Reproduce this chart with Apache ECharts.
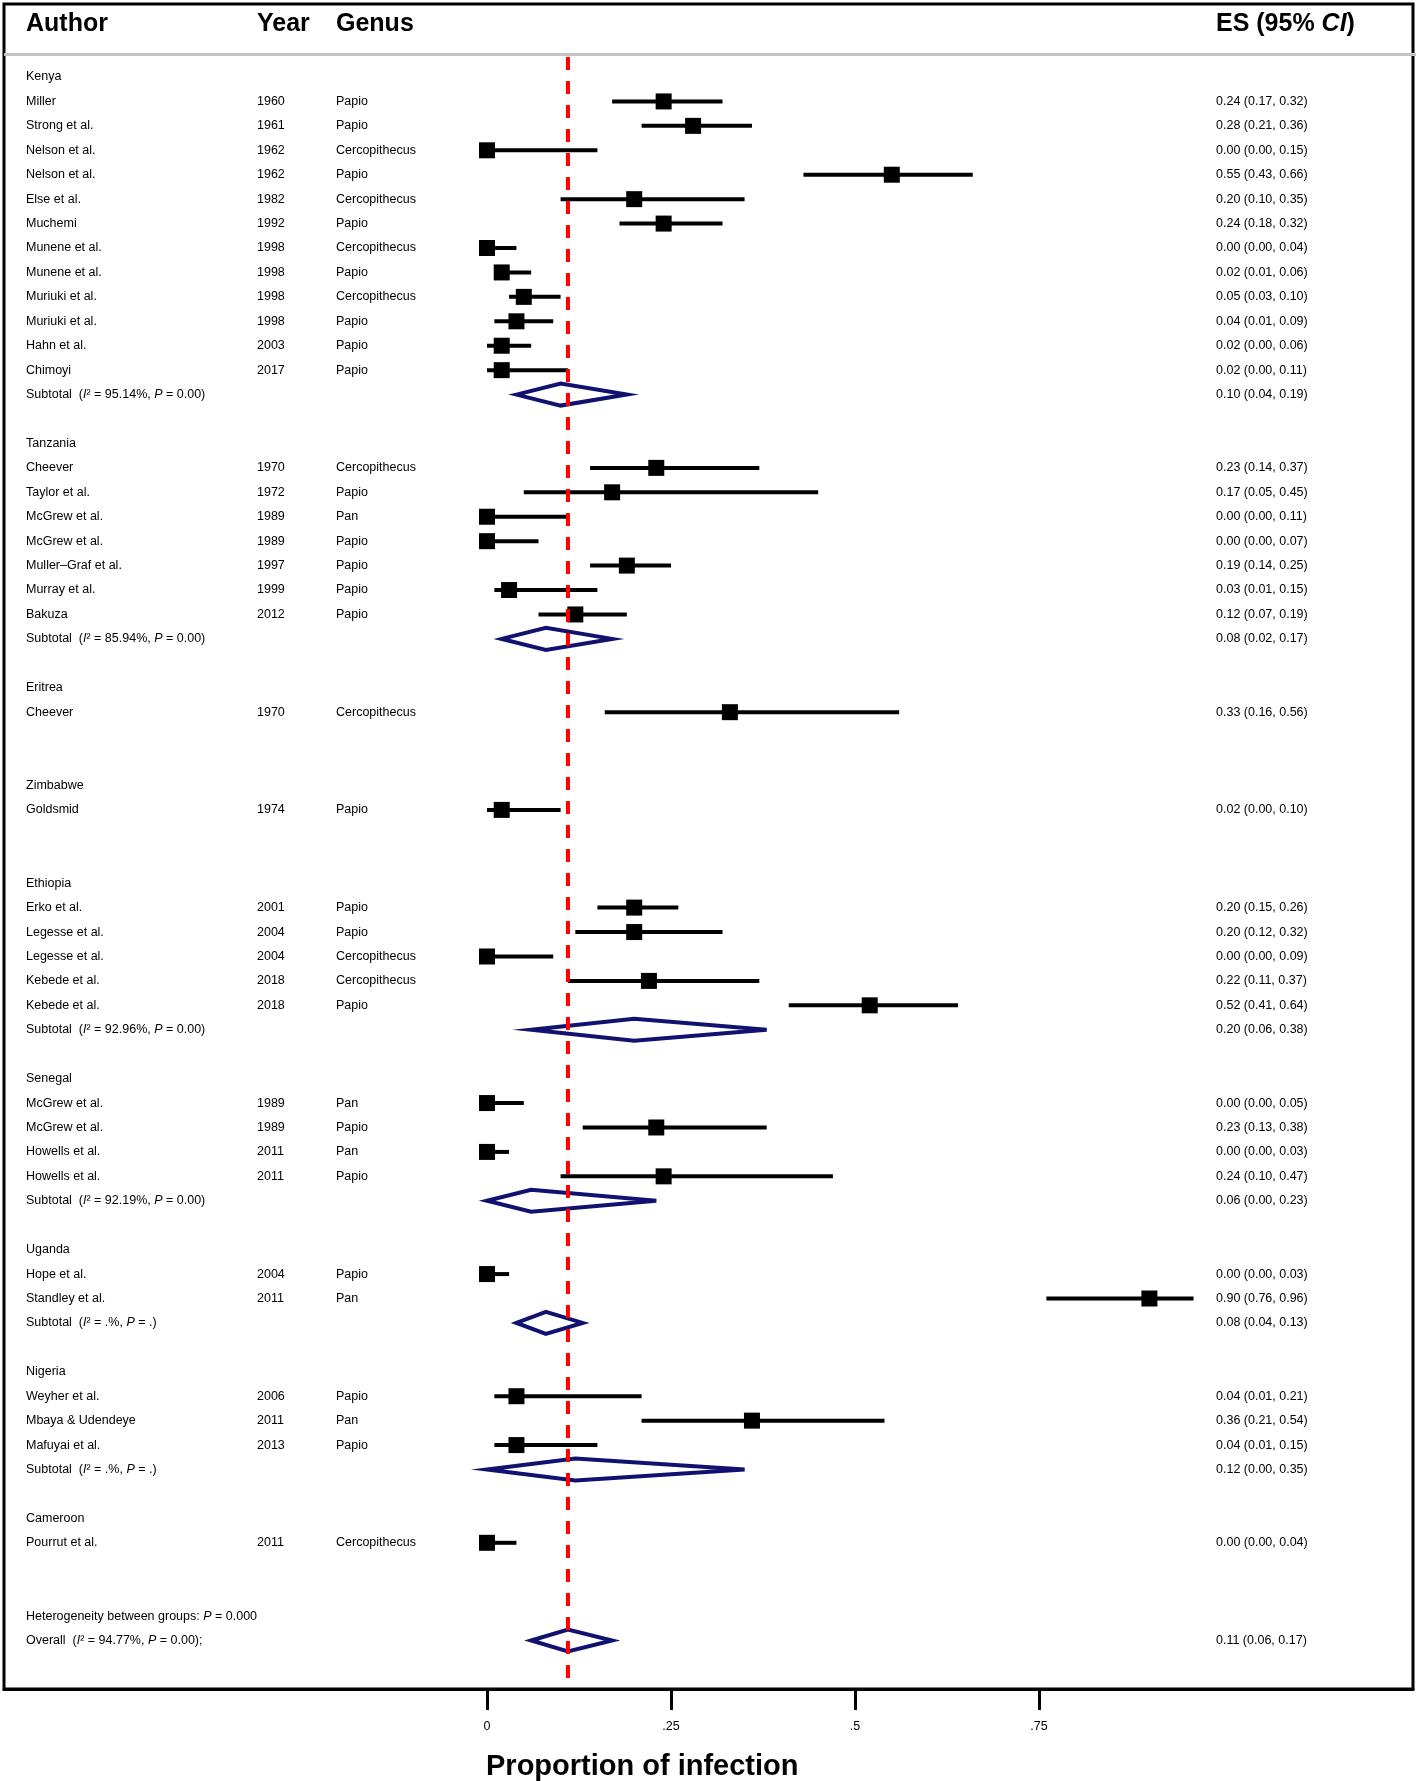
<!DOCTYPE html>
<html><head><meta charset="utf-8">
<script src="https://cdn.jsdelivr.net/npm/echarts@6/dist/echarts.min.js"></script>
<style>html,body{margin:0;padding:0;background:#fff}#c{width:1418px;height:1781px}</style>
</head><body><div id="c"></div>
<script>
// ---------------- DATA ----------------
// row types: g = group heading, s = study, t = subtotal, b = blank, h = heterogeneity note, o = overall
const rowType = ['g','s','s','s','s','s','s','s','s','s','s','s','s','t','b',
  'g','s','s','s','s','s','s','s','t','b',
  'g','s','b','b',
  'g','s','b','b',
  'g','s','s','s','s','s','t','b',
  'g','s','s','s','s','t','b',
  'g','s','s','t','b',
  'g','s','s','s','t','b',
  'g','s','b','b',
  'h','o'];
const rowLabel = ['Kenya','Miller','Strong et al.','Nelson et al.','Nelson et al.','Else et al.','Muchemi','Munene et al.','Munene et al.','Muriuki et al.','Muriuki et al.','Hahn et al.','Chimoyi','Subtotal','',
  'Tanzania','Cheever','Taylor et al.','McGrew et al.','McGrew et al.','Muller\u2013Graf et al.','Murray et al.','Bakuza','Subtotal','',
  'Eritrea','Cheever','','',
  'Zimbabwe','Goldsmid','','',
  'Ethiopia','Erko et al.','Legesse et al.','Legesse et al.','Kebede et al.','Kebede et al.','Subtotal','',
  'Senegal','McGrew et al.','McGrew et al.','Howells et al.','Howells et al.','Subtotal','',
  'Uganda','Hope et al.','Standley et al.','Subtotal','',
  'Nigeria','Weyher et al.','Mbaya & Udendeye','Mafuyai et al.','Subtotal','',
  'Cameroon','Pourrut et al.','','',
  'Heterogeneity between groups:','Overall'];
const rowYear = ['','1960','1961','1962','1962','1982','1992','1998','1998','1998','1998','2003','2017','','',
  '','1970','1972','1989','1989','1997','1999','2012','','',
  '','1970','','',
  '','1974','','',
  '','2001','2004','2004','2018','2018','','',
  '','1989','1989','2011','2011','','',
  '','2004','2011','','',
  '','2006','2011','2013','','',
  '','2011','','',
  '',''];
const rowGenus = ['','Papio','Papio','Cercopithecus','Papio','Cercopithecus','Papio','Cercopithecus','Papio','Cercopithecus','Papio','Papio','Papio','','',
  '','Cercopithecus','Papio','Pan','Papio','Papio','Papio','Papio','','',
  '','Cercopithecus','','',
  '','Papio','','',
  '','Papio','Papio','Cercopithecus','Cercopithecus','Papio','','',
  '','Pan','Papio','Pan','Papio','','',
  '','Papio','Pan','','',
  '','Papio','Pan','Papio','','',
  '','Cercopithecus','','',
  '',''];
const rowES = [null,0.24,0.28,0.00,0.55,0.20,0.24,0.00,0.02,0.05,0.04,0.02,0.02,0.10,null,
  null,0.23,0.17,0.00,0.00,0.19,0.03,0.12,0.08,null,
  null,0.33,null,null,
  null,0.02,null,null,
  null,0.20,0.20,0.00,0.22,0.52,0.20,null,
  null,0.00,0.23,0.00,0.24,0.06,null,
  null,0.00,0.90,0.08,null,
  null,0.04,0.36,0.04,0.12,null,
  null,0.00,null,null,
  null,0.11];
const rowLo = [null,0.17,0.21,0.00,0.43,0.10,0.18,0.00,0.01,0.03,0.01,0.00,0.00,0.04,null,
  null,0.14,0.05,0.00,0.00,0.14,0.01,0.07,0.02,null,
  null,0.16,null,null,
  null,0.00,null,null,
  null,0.15,0.12,0.00,0.11,0.41,0.06,null,
  null,0.00,0.13,0.00,0.10,0.00,null,
  null,0.00,0.76,0.04,null,
  null,0.01,0.21,0.01,0.00,null,
  null,0.00,null,null,
  null,0.06];
const rowHi = [null,0.32,0.36,0.15,0.66,0.35,0.32,0.04,0.06,0.10,0.09,0.06,0.11,0.19,null,
  null,0.37,0.45,0.11,0.07,0.25,0.15,0.19,0.17,null,
  null,0.56,null,null,
  null,0.10,null,null,
  null,0.26,0.32,0.09,0.37,0.64,0.38,null,
  null,0.05,0.38,0.03,0.47,0.23,null,
  null,0.03,0.96,0.13,null,
  null,0.21,0.54,0.15,0.35,null,
  null,0.04,null,null,
  null,0.17];
// heterogeneity statistics for subtotal / overall rows (I-squared, P)
const rowI2 = {13:'95.14%',23:'85.94%',39:'92.96%',46:'92.19%',51:'.%',57:'.%',64:'94.77%'};
const rowP  = {13:'0.00',23:'0.00',39:'0.00',46:'0.00',51:'.',57:'.',63:'0.000',64:'0.00'};
const xTicks = [0, 0.25, 0.5, 0.75];
const xTickLabels = ['0', '.25', '.5', '.75'];
const headerLabels = ['Author', 'Year', 'Genus'];
const axisTitle = 'Proportion of infection';

// ---------------- LAYOUT ----------------
const W = 1418, H = 1781;
const GL = 4, GT = 4, GR = 1413, GB = 1689;
const X0PX = 487, PX_PER_UNIT = 736;
const ROW0PX = 77, ROWPX = 24.43;
const X_MIN = (GL - X0PX) / PX_PER_UNIT, X_MAX = (GR - X0PX) / PX_PER_UNIT;
const Y_MIN = (GT - ROW0PX) / ROWPX, Y_MAX = (GB - ROW0PX) / ROWPX;
const COL_AUTHOR = 26, COL_YEAR = 257, COL_GENUS = 336, COL_ES = 1216;
const BODY_FONT = '"Liberation Sans", Arial, sans-serif';
const HEAD_FONT = '"Liberation Sans", Arial, sans-serif';
const BODY_SIZE = 12.5;
const HEAD_SIZE = 25;
const NAVY = '#111270';

const fmt = v => v.toFixed(2);
const rowsIdx = rowType.map((t, i) => i);
const studyRows = rowsIdx.filter(i => rowType[i] === 's');
const diamondRows = rowsIdx.filter(i => rowType[i] === 't' || rowType[i] === 'o');
const overallRow = rowType.indexOf('o');

function rowText(i) {
  const t = rowType[i];
  if (t === 't') return 'Subtotal  ({i|I}\u00b2 = ' + rowI2[i] + ', {i|P} = ' + rowP[i] + ')';
  if (t === 'o') return 'Overall  ({i|I}\u00b2 = ' + rowI2[i] + ', {i|P} = ' + rowP[i] + ');';
  if (t === 'h') return rowLabel[i] + ' {i|P} = ' + rowP[i];
  return rowLabel[i];
}
const richItalic = { i: { fontStyle: 'italic', fontFamily: BODY_FONT, fontSize: BODY_SIZE, fill: '#000' } };
const headFont = 'bold ' + HEAD_SIZE + 'px ' + HEAD_FONT;

const chart = echarts.init(document.getElementById('c'), null, { renderer: 'canvas' });
chart.setOption({
  animation: false,
  backgroundColor: '#fff',
  grid: { left: GL, top: GT, width: GR - GL, height: GB - GT, show: true, borderColor: '#000', borderWidth: 3, backgroundColor: 'transparent' },
  title: {
    text: axisTitle, left: X0PX - 6, top: 1747,
    textStyle: { fontFamily: HEAD_FONT, fontWeight: 'bold', fontSize: 29, color: '#000' }
  },
  xAxis: {
    type: 'value', min: X_MIN, max: X_MAX, position: 'bottom',
    axisLine: { show: true, onZero: false, lineStyle: { color: '#000', width: 3 } },
    axisTick: { show: true, customValues: xTicks, length: 21, lineStyle: { color: '#000', width: 3 } },
    axisLabel: { customValues: xTicks, margin: 31, color: '#000', fontSize: 12.5, fontFamily: BODY_FONT,
      formatter: v => xTickLabels[xTicks.indexOf(v)] ?? '' },
    splitLine: { show: false }
  },
  yAxis: { type: 'value', inverse: true, min: Y_MIN, max: Y_MAX, show: false },
  graphic: [
    { type: 'line', shape: { x1: GL, y1: 54.5, x2: W - 2, y2: 54.5 }, style: { stroke: '#c4c4c4', lineWidth: 3 }, z: 1 },
    { type: 'text', x: COL_AUTHOR, y: 24, style: { text: headerLabels[0], font: headFont, fill: '#000', verticalAlign: 'middle' } },
    { type: 'text', x: COL_YEAR, y: 24, style: { text: headerLabels[1], font: headFont, fill: '#000', verticalAlign: 'middle' } },
    { type: 'text', x: COL_GENUS, y: 24, style: { text: headerLabels[2], font: headFont, fill: '#000', verticalAlign: 'middle' } },
    { type: 'text', x: COL_ES, y: 24, style: { text: 'ES (95% {it|CI})', font: headFont, fill: '#000', verticalAlign: 'middle',
      rich: { it: { fontStyle: 'italic', fontWeight: 'bold', fontSize: HEAD_SIZE, fontFamily: HEAD_FONT, fill: '#000' } } } }
  ],
  series: [
    { // table text
      type: 'custom', z: 5, silent: true,
      data: rowsIdx.map(i => [0, i]),
      renderItem: (params, api) => {
        const i = params.dataIndex;
        const y = api.coord([0, i])[1];
        const kids = [];
        const base = { fill: '#000', fontFamily: BODY_FONT, fontSize: BODY_SIZE, verticalAlign: 'middle', align: 'left' };
        if (rowLabel[i]) kids.push({ type: 'text', style: Object.assign({ x: COL_AUTHOR, y, text: rowText(i), rich: richItalic }, base) });
        if (rowYear[i]) kids.push({ type: 'text', style: Object.assign({ x: COL_YEAR, y, text: rowYear[i] }, base) });
        if (rowGenus[i]) kids.push({ type: 'text', style: Object.assign({ x: COL_GENUS, y, text: rowGenus[i] }, base) });
        if (rowES[i] !== null) kids.push({ type: 'text', style: Object.assign({ x: COL_ES, y, text: fmt(rowES[i]) + ' (' + fmt(rowLo[i]) + ', ' + fmt(rowHi[i]) + ')' }, base) });
        return { type: 'group', children: kids };
      }
    },
    { // confidence intervals
      type: 'custom', z: 2, silent: true,
      data: studyRows.map(i => [rowLo[i], rowHi[i], i]),
      renderItem: (params, api) => {
        const a = api.coord([api.value(0), api.value(2)]);
        const b = api.coord([api.value(1), api.value(2)]);
        return { type: 'line', shape: { x1: a[0], y1: a[1], x2: b[0], y2: b[1] }, style: { stroke: '#000', lineWidth: 4 } };
      }
    },
    { // point estimates
      type: 'scatter', z: 3, silent: true,
      symbol: 'rect', symbolSize: 16,
      itemStyle: { color: '#000', opacity: 1 },
      data: studyRows.map(i => [rowES[i], i])
    },
    { // pooled diamonds
      type: 'custom', z: 4, silent: true,
      data: diamondRows.map(i => [rowES[i], rowLo[i], rowHi[i], i]),
      renderItem: (params, api) => {
        const r = api.value(3);
        const c = api.coord([api.value(0), r]);
        const l = api.coord([api.value(1), r]);
        const h = api.coord([api.value(2), r]);
        const hh = 11;
        return { type: 'polygon', shape: { points: [[l[0], c[1]], [c[0], c[1] - hh], [h[0], c[1]], [c[0], c[1] + hh]] },
          style: { stroke: NAVY, lineWidth: 4, fill: 'rgba(0,0,0,0)', lineJoin: 'miter' } };
      }
    },
    { // overall estimate reference line
      type: 'custom', z: 10, silent: true,
      data: [[rowES[overallRow]]],
      renderItem: (params, api) => {
        const x = api.coord([api.value(0), 0])[0];
        const cs = params.coordSys;
        return { type: 'line', shape: { x1: x, y1: 57, x2: x, y2: cs.y + cs.height - 1 },
          style: { stroke: '#ff0000', lineWidth: 4, lineDash: [13, 11] } };
      }
    }
  ]
});
</script>
</body></html>
